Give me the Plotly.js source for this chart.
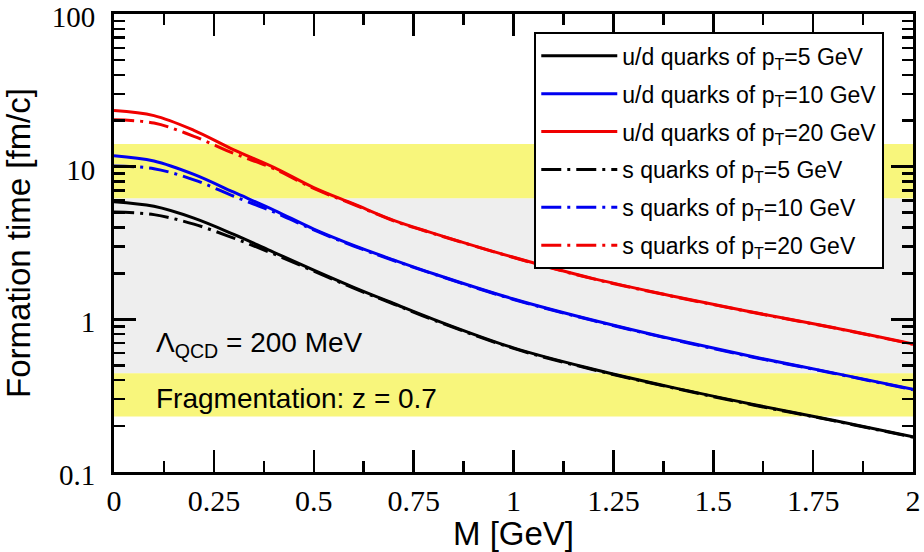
<!DOCTYPE html>
<html>
<head>
<meta charset="utf-8">
<script src="https://cdn.plot.ly/plotly-3.0.1.min.js"></script>
<style>html,body{margin:0;padding:0;background:#fff;}</style>
</head>
<body>
<div id="chart" style="width:924px;height:552px;"></div>
<script>
// Mass M [GeV]
const M = [0, 0.1, 0.2, 0.3, 0.4, 0.5, 0.6, 0.7, 0.8, 1.0, 1.2, 1.4, 1.6, 1.8, 2.0];
// u/d quarks (solid)
const ud_pt5  = [5.9, 5.5, 4.6, 3.6, 2.75, 2.1, 1.62, 1.27, 1.0, 0.65, 0.471, 0.357, 0.277, 0.218, 0.17];
const ud_pt10 = [11.8, 10.9, 8.9, 6.8, 5.2, 3.9, 3.05, 2.45, 1.99, 1.36, 0.986, 0.74, 0.568, 0.446, 0.348];
const ud_pt20 = [23.3, 21.6, 17.3, 12.9, 9.9, 7.3, 5.7, 4.45, 3.66, 2.55, 1.847, 1.418, 1.113, 0.884, 0.69];
// s quarks (dash-dot)
const s_pt5  = [5.05, 4.85, 4.2, 3.4, 2.68, 2.07, 1.6, 1.26, 0.99, 0.645, 0.468, 0.355, 0.275, 0.217, 0.169];
const s_pt10 = [10.1, 9.7, 8.2, 6.4, 5.05, 3.85, 3.02, 2.43, 1.98, 1.35, 0.98, 0.736, 0.565, 0.444, 0.346];
const s_pt20 = [20.3, 19.3, 15.8, 12.2, 9.7, 7.2, 5.65, 4.42, 3.64, 2.54, 1.84, 1.412, 1.108, 0.88, 0.687];
// Bands (formation time ranges)
const bandUpper = [6.21, 14.1];
const bandLower = [0.231, 0.443];
const bandMiddle = [0.443, 6.21];

const labels = [
  'u/d quarks of p<sub>T</sub>=5 GeV',
  'u/d quarks of p<sub>T</sub>=10 GeV',
  'u/d quarks of p<sub>T</sub>=20 GeV',
  's quarks of p<sub>T</sub>=5 GeV',
  's quarks of p<sub>T</sub>=10 GeV',
  's quarks of p<sub>T</sub>=20 GeV'
];
const series = [ud_pt5, ud_pt10, ud_pt20, s_pt5, s_pt10, s_pt20];
const colors = ['#000000', '#0000f0', '#f00000', '#000000', '#0000f0', '#f00000'];
const dashes = ['solid', 'solid', 'solid', '20px,6px,3px,6px', '20px,6px,3px,6px', '20px,6px,3px,6px'];

const data = series.map((ys, i) => ({
  x: M, y: ys, type: 'scatter', mode: 'lines', name: labels[i],
  legendgroup: 'g' + i,
  line: {color: colors[i], width: 3, dash: dashes[i], shape: 'spline'}
}));

const serif = 'Liberation Serif, Times New Roman, serif';
const sans = 'Liberation Sans, Arial, Helvetica, sans-serif';

const layout = {
  width: 924, height: 552,
  margin: {l: 114, r: 11, t: 14, b: 80},
  paper_bgcolor: '#ffffff', plot_bgcolor: '#ffffff',
  showlegend: true,
  xaxis: {
    range: [0, 2], dtick: 0.25, tick0: 0,
    ticks: 'inside', ticklen: 22, tickwidth: 2.5, tickcolor: '#000',
    showline: true, linewidth: 3, linecolor: '#000', mirror: 'allticks',
    showgrid: false, zeroline: false,
    minor: {dtick: 0.125, ticks: 'inside', ticklen: 11, tickwidth: 2.5, tickcolor: '#000', showgrid: false},
    tickfont: {family: serif, size: 30, color: '#000'},
    ticklabelstandoff: 0, ticklabeloverflow: 'allow',
    title: {text: 'M [GeV]', font: {family: sans, size: 33, color: '#000'}, standoff: 2}
  },
  yaxis: {
    type: 'log', range: [-1, 2], dtick: 1,
    ticks: 'inside', ticklen: 22, tickwidth: 2.5, tickcolor: '#000',
    showline: true, linewidth: 3, linecolor: '#000', mirror: 'allticks',
    showgrid: false, zeroline: false,
    minor: {dtick: 'D1', ticks: 'inside', ticklen: 11, tickwidth: 2.5, tickcolor: '#000', showgrid: false},
    tickfont: {family: serif, size: 29, color: '#000'},
    ticklabelstandoff: 10, ticklabeloverflow: 'allow', ticklabelshift: 3,
    title: {text: 'Formation time [fm/c]', font: {family: sans, size: 33, color: '#000'}, standoff: 12}
  },
  legend: {
    x: 0.526, y: 0.96, xanchor: 'left', yanchor: 'top',
    bgcolor: '#ffffff', bordercolor: '#000', borderwidth: 2,
    font: {family: sans, size: 23, color: '#000'},
    tracegroupgap: 5, itemwidth: 76, traceorder: 'grouped'
  },
  shapes: [
    {type: 'rect', xref: 'paper', x0: 0, x1: 1, yref: 'y', y0: bandMiddle[0], y1: bandMiddle[1],
     fillcolor: '#eeeeee', line: {width: 0}, layer: 'below'},
    {type: 'rect', xref: 'paper', x0: 0, x1: 1, yref: 'y', y0: bandUpper[0], y1: bandUpper[1],
     fillcolor: '#f8f67c', line: {width: 0}, layer: 'below'},
    {type: 'rect', xref: 'paper', x0: 0, x1: 1, yref: 'y', y0: bandLower[0], y1: bandLower[1],
     fillcolor: '#f8f67c', line: {width: 0}, layer: 'below'}
  ],
  annotations: [
    {xref: 'x', yref: 'y', x: 0.1, y: -0.168, xanchor: 'left', yanchor: 'middle', showarrow: false,
     text: 'Λ<sub>QCD</sub> = 200 MeV', font: {family: sans, size: 28, color: '#000'}},
    {xref: 'x', yref: 'y', x: 0.1, y: -0.521, xanchor: 'left', yanchor: 'middle', showarrow: false,
     text: 'Fragmentation: z = 0.7', font: {family: sans, size: 28, color: '#000'}}
  ]
};

Plotly.newPlot('chart', data, layout, {staticPlot: true, displayModeBar: false});
</script>
</body>
</html>
